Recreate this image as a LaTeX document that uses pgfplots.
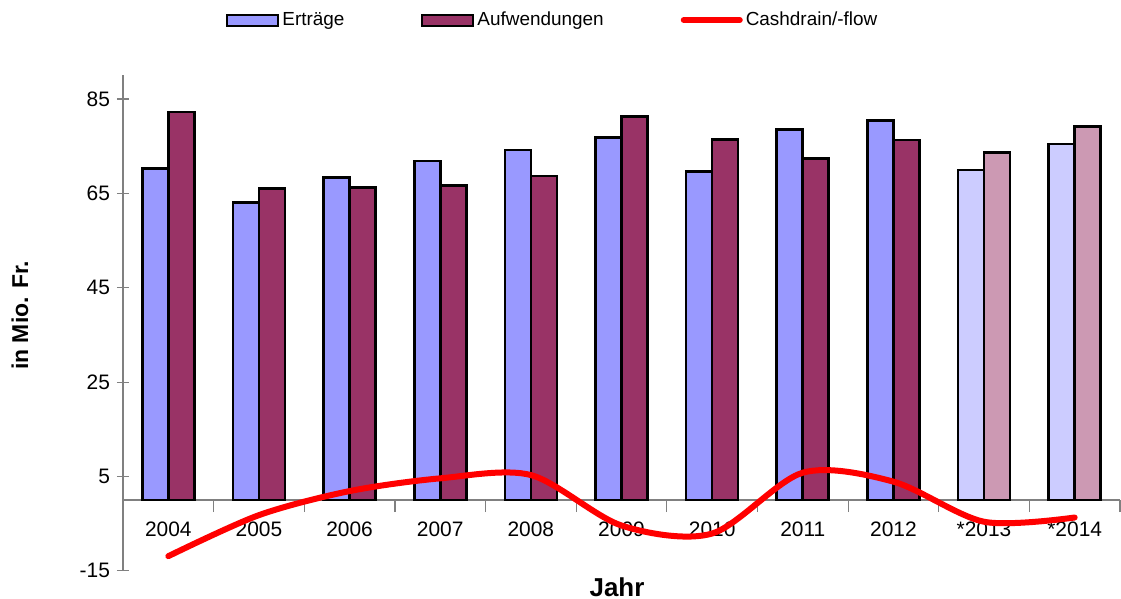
\documentclass[border=0pt]{standalone}
\usepackage{pgfplots}
\pgfplotsset{compat=1.18}
\usepackage{fontspec}
\setmainfont{Liberation Sans}

\definecolor{ertrag}{HTML}{9999FF}
\definecolor{aufw}{HTML}{993366}
\definecolor{ertraglight}{HTML}{CCCCFF}
\definecolor{aufwlight}{HTML}{CC99B3}

\pgfplotsset{
	barleg/.style={legend image code/.code={\draw[##1, line width=1bp] (0bp,-2.75bp) rectangle (25.5bp,2.75bp);}},
	lineleg/.style={legend image code/.code={\draw[##1] (0bp,0bp) -- (28bp,0bp);}},
}

\begin{document}
\begin{tikzpicture}
\begin{axis}[
	name=ax,
	set layers,
	scale only axis,
	width=498.5bp,
	height=247.65bp,
	xmin=-0.5, xmax=10.5,
	ymin=-15, ymax=90,
	axis y line=left,
	axis x line=middle,
	hide obscured x ticks=false,
	hide obscured y ticks=false,
	axis line style={-, draw=gray, line width=0.6bp},
	tick style={draw=gray, line width=0.6bp},
	tick align=center,
	major tick length=6bp,
	ytick={-15,5,25,45,65,85},
	yticklabels={-15,5,25,45,65,85},
	xtick={-0.5,0.5,...,10.5},
	x tick label as interval,
	xticklabels={2004,2005,2006,2007,2008,2009,2010,2011,2012,*2013,*2014},
	ticklabel style={font=\fontsize{10.5}{12}\selectfont},
	xticklabel style={yshift=-1.5bp},
	ylabel={\bfseries in Mio. Fr.},
	ylabel style={at={(axis description cs:-0.1033,0.516)}, anchor=center, font=\fontsize{11.5}{13}\selectfont},
	xlabel={\bfseries Jahr},
	xlabel style={at={(axis description cs:0.4955,-0.033)}, anchor=center, font=\fontsize{13}{15}\selectfont},
	ybar=0pt,
	bar width=13bp,
	legend columns=3,
	legend style={draw=none, at={(0.1033,1.112)}, anchor=west,
		font=\fontsize{9.5}{11}\selectfont, inner sep=0pt,
		/tikz/every even column/.append style={column sep=37bp},
		nodes={inner sep=1.5bp}},
]

% Erträge
\addplot[fill=ertrag, draw=black, line width=1.3bp, bar shift=-6.5bp, barleg]
	coordinates {(0,70.3) (1,63.1) (2,68.4) (3,71.9) (4,74.2) (5,76.9) (6,69.7) (7,78.6) (8,80.5)};
\addlegendentry{Erträge}

% Aufwendungen
\addplot[fill=aufw, draw=black, line width=1.3bp, bar shift=6.5bp, barleg]
	coordinates {(0,82.3) (1,66.1) (2,66.3) (3,66.7) (4,68.7) (5,81.3) (6,76.4) (7,72.4) (8,76.3)};
\addlegendentry{Aufwendungen}

% Budget 2013/2014 (heller)
\addplot[forget plot, fill=ertraglight, draw=black, line width=1.3bp, bar shift=-6.5bp]
	coordinates {(9,70.0) (10,75.5)};
\addplot[forget plot, fill=aufwlight, draw=black, line width=1.3bp, bar shift=6.5bp]
	coordinates {(9,73.7) (10,79.2)};

% Cashdrain/-flow
\addplot[smooth, red, line width=3bp, line cap=round, mark=none, lineleg]
	coordinates {(0,-11.9) (1,-3.2) (2,1.9) (3,4.6) (4,5.3) (5,-5.4) (6,-7.1) (7,5.8) (8,3.9) (9,-4.6) (10,-3.7)};
\addlegendentry{Cashdrain/-flow}

\end{axis}
\pgfresetboundingbox
\path[use as bounding box] ([shift={(-61.5bp,-14.1bp)}]ax.south west) rectangle ([shift={(0.5bp,37.75bp)}]ax.north east);
\end{tikzpicture}
\end{document}
